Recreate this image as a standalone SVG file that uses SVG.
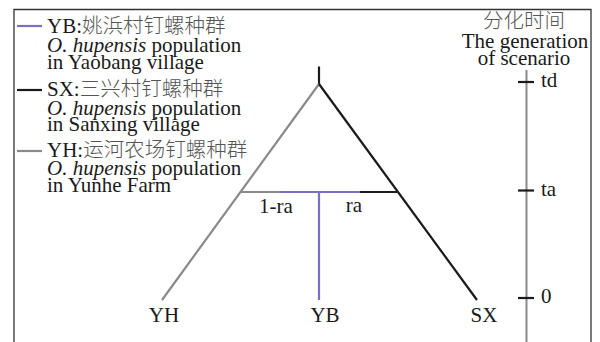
<svg xmlns="http://www.w3.org/2000/svg" width="600" height="342" viewBox="0 0 600 342">
<style>
.t{font-family:"Liberation Serif","Times New Roman","DejaVu Serif",serif;font-size:21px;fill:#1a1a1a}
.c{font-family:"Noto Sans CJK SC",sans-serif;font-size:20.5px;font-weight:300;fill:#555}
.i{font-style:italic}
.l{fill:none;stroke-width:2.2;stroke-linecap:butt}
.p{stroke:#7870c4}.k{stroke:#1a1a1a}.g{stroke:#8a8a8a}
</style>
<rect width="600" height="342" fill="#fff"/>
<path d="M14 345V9.5H591V345" fill="none" stroke="#333" stroke-width="1.3"/>
<g id="legend">
<line class="l p" x1="17" y1="26" x2="42" y2="26"/>
<text class="t" x="47" y="33">YB:<tspan class="c">姚浜村钉螺种群</tspan></text>
<text class="t" x="47" y="51.5"><tspan class="i">O. hupensis</tspan> population</text>
<text class="t" x="47" y="68.5">in Yaobang village</text>
<line class="l k" x1="17" y1="90" x2="42" y2="90"/>
<text class="t" x="47" y="96">SX:<tspan class="c">三兴村钉螺种群</tspan></text>
<text class="t" x="47" y="114.5"><tspan class="i">O. hupensis</tspan>  population</text>
<text class="t" x="47" y="131">in Sanxing village</text>
<line class="l g" x1="17" y1="151" x2="42" y2="151"/>
<text class="t" x="47" y="157">YH:<tspan class="c">运河农场钉螺种群</tspan></text>
<text class="t" x="47" y="174.5"><tspan class="i">O. hupensis</tspan>  population</text>
<text class="t" x="47" y="192">in Yunhe Farm</text>
</g>
<g id="connectors">
<line class="l k" x1="319" y1="66.5" x2="319" y2="84"/>
<line class="l g" x1="319" y1="84" x2="162" y2="300"/>
<line class="l k" x1="319" y1="84" x2="477" y2="300"/>
<line class="l g" x1="241" y1="192" x2="280" y2="192"/>
<line class="l p" x1="280" y1="192" x2="360" y2="192"/>
<line class="l k" x1="360" y1="192" x2="397" y2="192"/>
<line class="l p" x1="319" y1="192" x2="319" y2="300"/>
</g>
<g id="YH"><text class="t" x="164" y="322" text-anchor="middle">YH</text></g>
<g id="YB"><text class="t" x="325" y="322" text-anchor="middle">YB</text></g>
<g id="SX"><text class="t" x="484" y="322" text-anchor="middle">SX</text></g>
<g id="weights">
<text class="t" x="276" y="213" text-anchor="middle">1-ra</text>
<text class="t" x="354" y="212" text-anchor="middle">ra</text>
</g>
<g id="axis">
<text class="c" x="524" y="28" text-anchor="middle">分化时间</text>
<text class="t" x="525" y="48" text-anchor="middle">The generation</text>
<text class="t" x="524" y="65" text-anchor="middle">of scenario</text>
<line x1="526.5" y1="70" x2="526.5" y2="345" stroke="#8a8a8a" stroke-width="2"/>
<line class="l k" x1="518" y1="82" x2="534" y2="82"/>
<line class="l k" x1="518" y1="190.5" x2="534" y2="190.5"/>
<line class="l k" x1="518" y1="298" x2="534" y2="298"/>
<text class="t" x="541" y="87">td</text>
<text class="t" x="541" y="196">ta</text>
<text class="t" x="541" y="303">0</text>
</g>
</svg>
